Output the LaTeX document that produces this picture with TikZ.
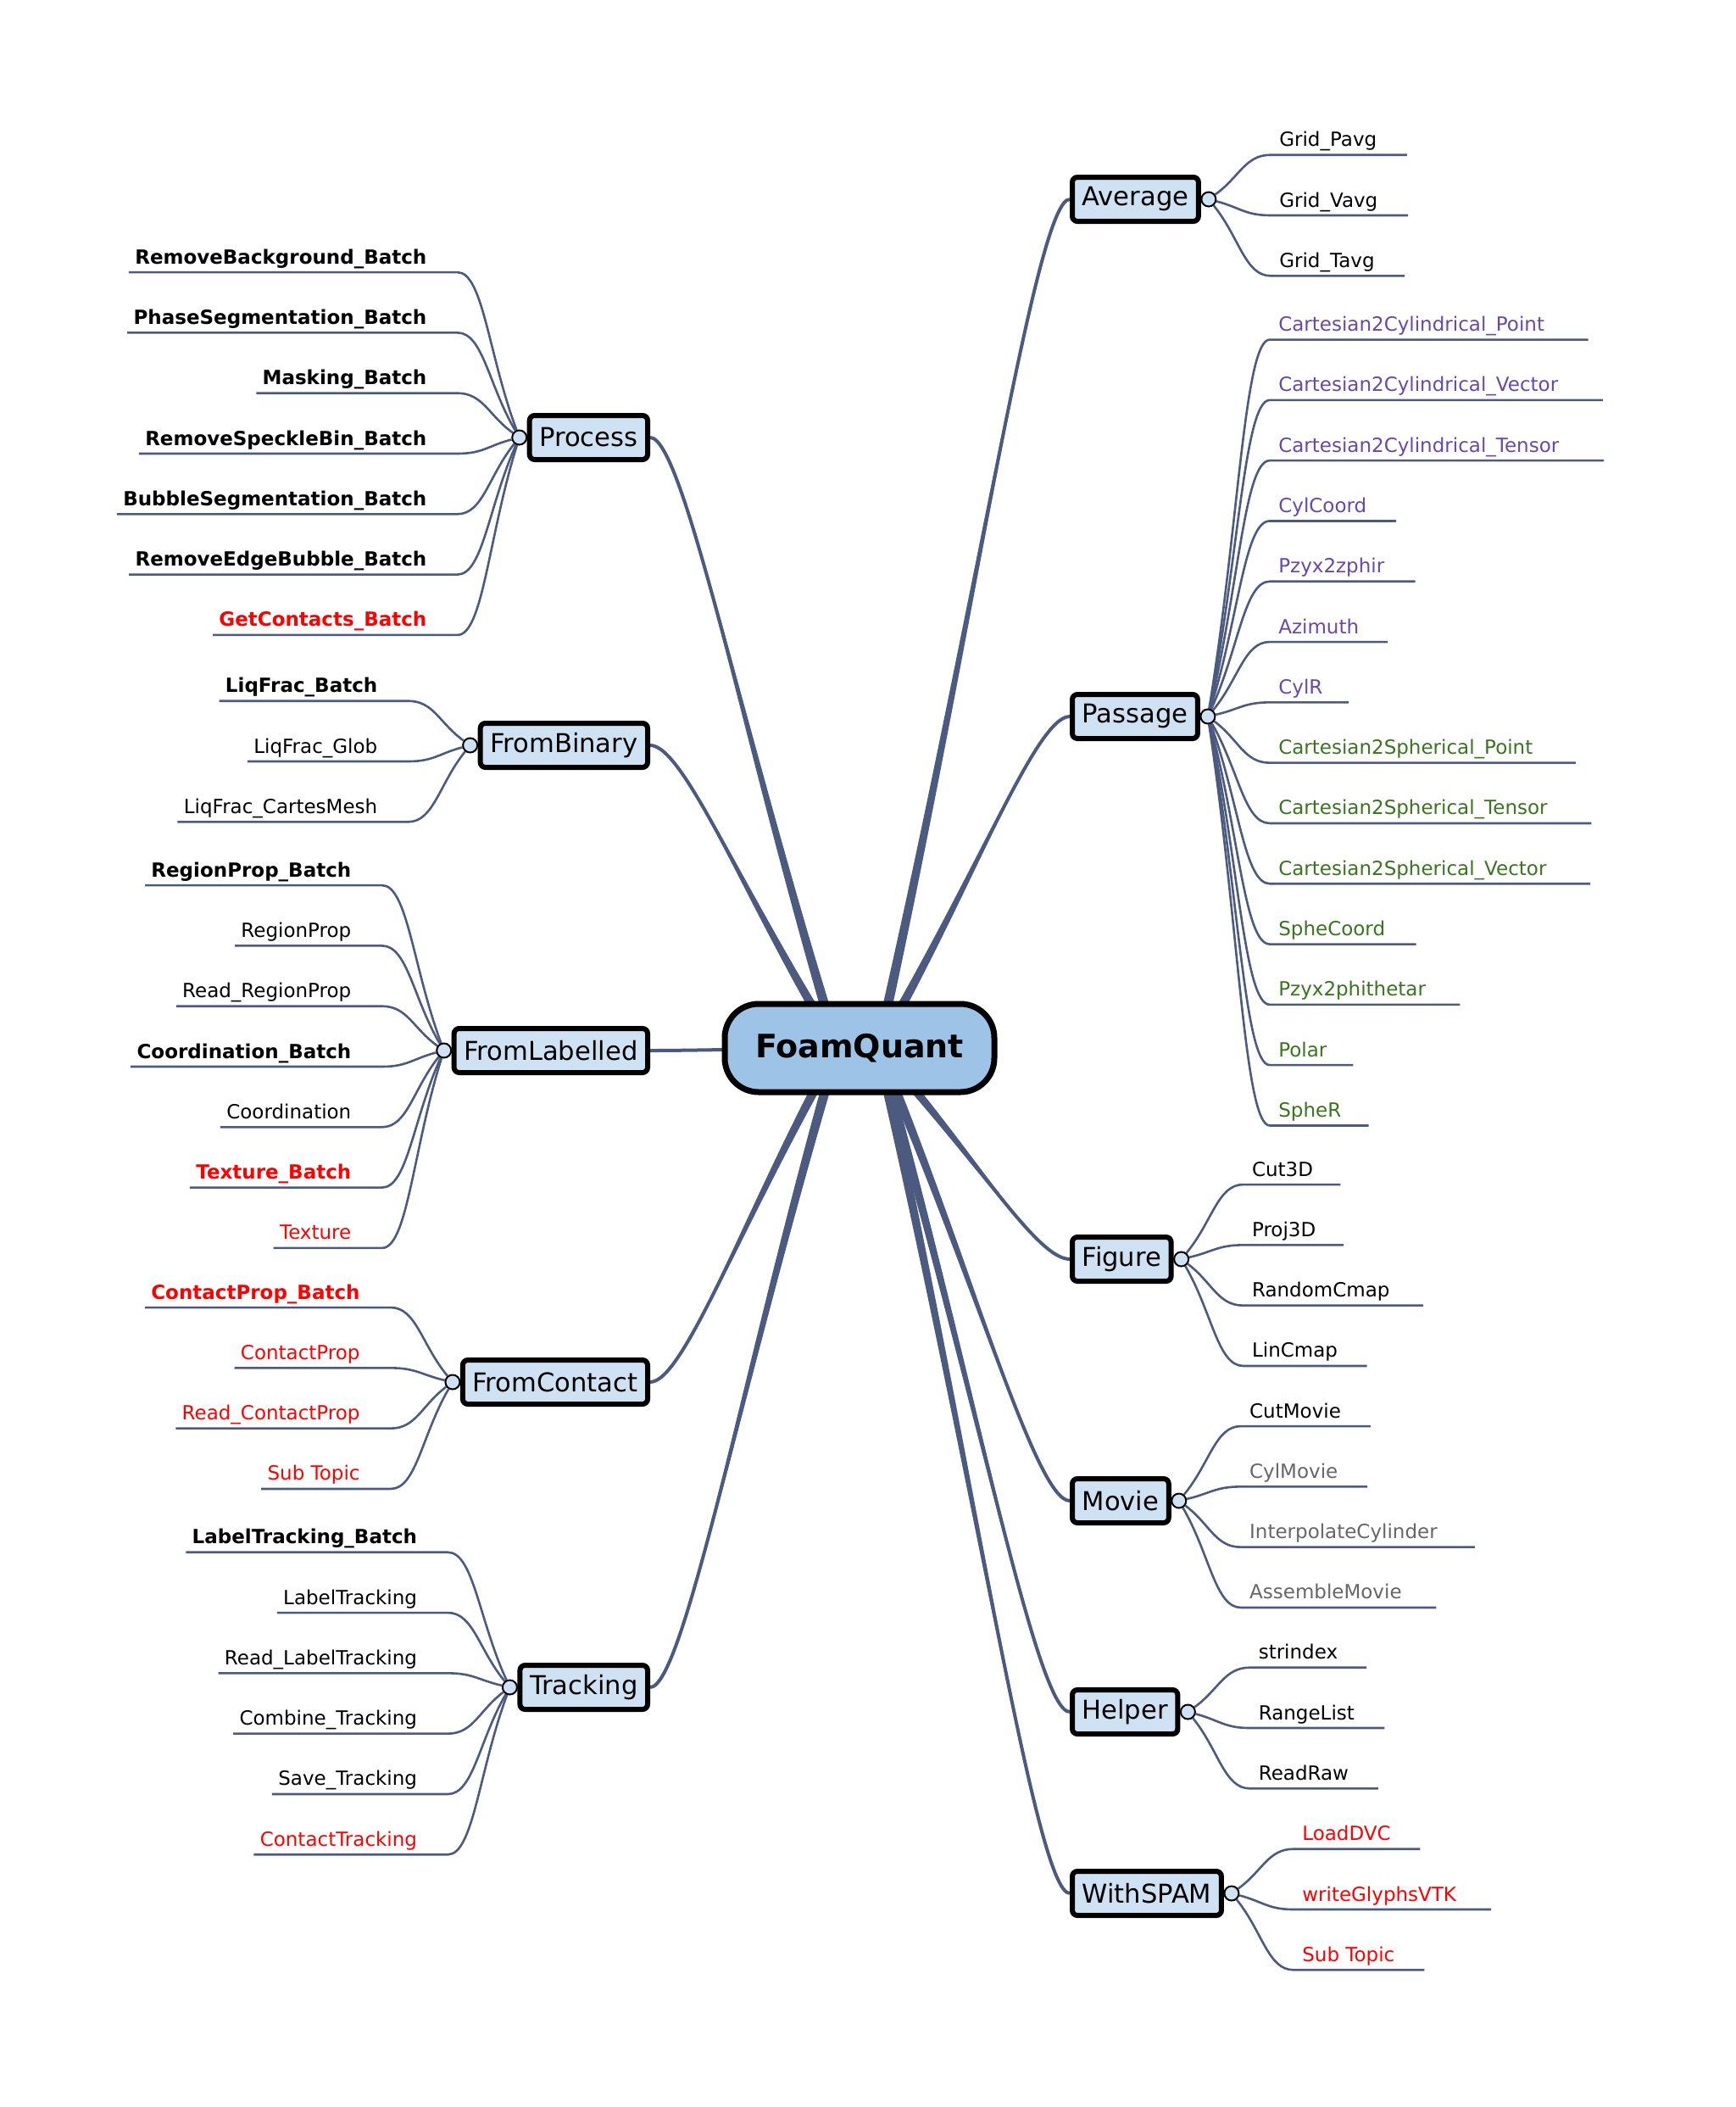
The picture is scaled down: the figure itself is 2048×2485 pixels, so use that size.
\documentclass[tikz,border=0pt]{standalone}
\usepackage{fontspec}
\setmainfont{DejaVu Sans}
\usetikzlibrary{calc,backgrounds,positioning}
\definecolor{linkblue}{RGB}{75,90,126}
\definecolor{rootblue}{RGB}{157,195,230}
\definecolor{topicblue}{RGB}{207,226,243}
\definecolor{cylpurple}{RGB}{104,72,170}
\definecolor{sphgreen}{RGB}{56,118,29}
\definecolor{leafgrey}{RGB}{102,102,102}

% main branch, thick at the root end
\newcommand{\limb}[3]{%
  \coordinate (lc1) at ($(#1)!0.5!(#2)$);
  \coordinate (lc2) at ($(#2)+(#3,0)$);
  \fill[linkblue] ($(#1)!3pt!90:(lc1)$) .. controls ($(lc1)!1.5pt!-90:(#1)$) and (lc2) .. (#2)
    .. controls (lc2) and ($(lc1)!1.5pt!90:(#1)$) .. ($(#1)!3pt!-90:(lc1)$) -- cycle;
  \draw[limb] (#1) .. controls (lc1) and (lc2) .. (#2);
}
% sub topic on the right: knob, name, slot, style, text
\newcommand{\leafR}[5]{%
  \coordinate (#2-e) at ($(#1)+(73,{(#3)*71.3+19})$);
  \node[leaf,#4,anchor=base west] (#2) at ($(#2-e)+(10,-10)$) {#5};
  \begin{scope}[on background layer]
    \draw[twig] (#1) .. controls ($(#1)!0.5!(#2-e)$) and ($(#2-e)+(-30,0)$) .. (#2-e)
      -- ($(#2.east |- #2-e)!-0.08!(#2.west |- #2-e) + (26,0)$);
  \end{scope}
}
% sub topic on the left
\newcommand{\leafL}[5]{%
  \coordinate (#2-e) at ($(#1)+(-73,{(#3)*71.3+19})$);
  \node[leaf,#4,anchor=base east] (#2) at ($(#2-e)+(-36,-10)$) {#5};
  \begin{scope}[on background layer]
    \draw[twig] (#1) .. controls ($(#1)!0.5!(#2-e)$) and ($(#2-e)+(30,0)$) .. (#2-e)
      -- ($(#2.west |- #2-e)+(-7,0)$);
  \end{scope}
}

\begin{document}
\begin{tikzpicture}[
    x=0.5pt, y=-0.5pt,
    root/.style={draw=black,line width=3.5pt,fill=rootblue,rounded corners=20pt,
      minimum width=159pt,minimum height=52pt,font=\fontsize{19}{22}\selectfont\bfseries},
    topic/.style={draw=black,line width=3pt,fill=topicblue,rounded corners=3pt,
      minimum height=26pt,inner xsep=5.8pt,inner ysep=0pt,font=\fontsize{15.3}{18}\selectfont},
    knob/.style={circle,draw=black,line width=1pt,fill=topicblue,minimum size=8.5pt,inner sep=0pt},
    twig/.style={linkblue,line width=1.3pt},
    limb/.style={linkblue,line width=2pt},
    leaf/.style={inner sep=0pt,font=\fontsize{11.5}{13}\selectfont},
    plainleaf/.style={text=black},
    boldleaf/.style={text=black,font=\fontsize{11.5}{13}\selectfont\bfseries},
    redleaf/.style={text=red},
    redboldleaf/.style={text=red,font=\fontsize{11.5}{13}\selectfont\bfseries},
    cylleaf/.style={text=cylpurple},
    sphleaf/.style={text=sphgreen},
    greyleaf/.style={text=leafgrey}
  ]
  \useasboundingbox (0,0) rectangle (2048,2485);

  \node[root] (fq) at (1014,1236) {FoamQuant};
  \coordinate (fq-r) at ($(fq.center)+(22,0)$);
  \coordinate (fq-l) at ($(fq.center)+(-26,0)$);

  % right topics
  \node[topic,anchor=west] (avg) at (1262,235) {Average};
  \node[topic,anchor=west] (pas) at (1262,845) {Passage};
  \node[topic,anchor=west] (fig) at (1262,1485) {Figure};
  \node[topic,anchor=west] (mov) at (1262,1770) {Movie};
  \node[topic,anchor=west] (hlp) at (1262,2019) {Helper};
  \node[topic,anchor=west] (spam) at (1262,2233) {WithSPAM};
  \foreach \n in {avg,pas,fig,mov,hlp,spam}
    \node[knob] (\n-k) at ($(\n.east)+(9,0)$) {};

  % left topics
  \node[topic,anchor=east] (proc) at (767,516) {Process};
  \node[topic,anchor=east] (bin) at (767,879) {FromBinary};
  \node[topic,anchor=east] (lab) at (767,1239) {FromLabelled};
  \node[topic,anchor=east] (con) at (767,1630) {FromContact};
  \node[topic,anchor=east] (trk) at (767,1990) {Tracking};
  \foreach \n in {proc,bin,lab,con,trk}
    \node[knob] (\n-k) at ($(\n.west)+(-9,0)$) {};

  % sub topics
  \foreach \t/\s [count=\i] in {Grid\_Pavg/plainleaf,Grid\_Vavg/plainleaf,Grid\_Tavg/plainleaf}
    {\leafR{avg-k}{avg-\i}{\i-2}{\s}{\t}}
  \foreach \t/\s [count=\i] in {Cartesian2Cylindrical\_Point/cylleaf,
      Cartesian2Cylindrical\_Vector/cylleaf,Cartesian2Cylindrical\_Tensor/cylleaf,
      CylCoord/cylleaf,Pzyx2zphir/cylleaf,Azimuth/cylleaf,CylR/cylleaf,
      Cartesian2Spherical\_Point/sphleaf,Cartesian2Spherical\_Tensor/sphleaf,
      Cartesian2Spherical\_Vector/sphleaf,SpheCoord/sphleaf,Pzyx2phithetar/sphleaf,
      Polar/sphleaf,SpheR/sphleaf}
    {\leafR{pas-k}{pas-\i}{\i-7.5}{\s}{\t}}
  \foreach \t/\s [count=\i] in {Cut3D/plainleaf,Proj3D/plainleaf,RandomCmap/plainleaf,LinCmap/plainleaf}
    {\leafR{fig-k}{fig-\i}{\i-2.5}{\s}{\t}}
  \foreach \t/\s [count=\i] in {CutMovie/plainleaf,CylMovie/greyleaf,InterpolateCylinder/greyleaf,AssembleMovie/greyleaf}
    {\leafR{mov-k}{mov-\i}{\i-2.5}{\s}{\t}}
  \foreach \t/\s [count=\i] in {strindex/plainleaf,RangeList/plainleaf,ReadRaw/plainleaf}
    {\leafR{hlp-k}{hlp-\i}{\i-2}{\s}{\t}}
  \foreach \t/\s [count=\i] in {LoadDVC/redleaf,writeGlyphsVTK/redleaf,Sub Topic/redleaf}
    {\leafR{spam-k}{spam-\i}{\i-2}{\s}{\t}}

  \foreach \t/\s [count=\i] in {RemoveBackground\_Batch/boldleaf,PhaseSegmentation\_Batch/boldleaf,
      Masking\_Batch/boldleaf,RemoveSpeckleBin\_Batch/boldleaf,BubbleSegmentation\_Batch/boldleaf,
      RemoveEdgeBubble\_Batch/boldleaf,GetContacts\_Batch/redboldleaf}
    {\leafL{proc-k}{proc-\i}{\i-4}{\s}{\t}}
  \foreach \t/\s [count=\i] in {LiqFrac\_Batch/boldleaf,LiqFrac\_Glob/plainleaf,LiqFrac\_CartesMesh/plainleaf}
    {\leafL{bin-k}{bin-\i}{\i-2}{\s}{\t}}
  \foreach \t/\s [count=\i] in {RegionProp\_Batch/boldleaf,RegionProp/plainleaf,Read\_RegionProp/plainleaf,
      Coordination\_Batch/boldleaf,Coordination/plainleaf,Texture\_Batch/redboldleaf,Texture/redleaf}
    {\leafL{lab-k}{lab-\i}{\i-4}{\s}{\t}}
  \foreach \t/\s [count=\i] in {ContactProp\_Batch/redboldleaf,ContactProp/redleaf,
      Read\_ContactProp/redleaf,Sub Topic/redleaf}
    {\leafL{con-k}{con-\i}{\i-2.5}{\s}{\t}}
  \foreach \t/\s [count=\i] in {LabelTracking\_Batch/boldleaf,LabelTracking/plainleaf,
      Read\_LabelTracking/plainleaf,Combine\_Tracking/plainleaf,Save\_Tracking/plainleaf,
      ContactTracking/redleaf}
    {\leafL{trk-k}{trk-\i}{\i-3.5}{\s}{\t}}

  % main branches
  \begin{scope}[on background layer]
    \limb{fq-r}{avg.west}{-40}
    \limb{fq-r}{pas.west}{-40}
    \limb{fq-r}{fig.west}{-40}
    \limb{fq-r}{mov.west}{-40}
    \limb{fq-r}{hlp.west}{-40}
    \limb{fq-r}{spam.west}{-40}
    \limb{fq-l}{proc.east}{40}
    \limb{fq-l}{bin.east}{40}
    \limb{fq-l}{lab.east}{40}
    \limb{fq-l}{con.east}{40}
    \limb{fq-l}{trk.east}{40}
  \end{scope}
\end{tikzpicture}
\end{document}
